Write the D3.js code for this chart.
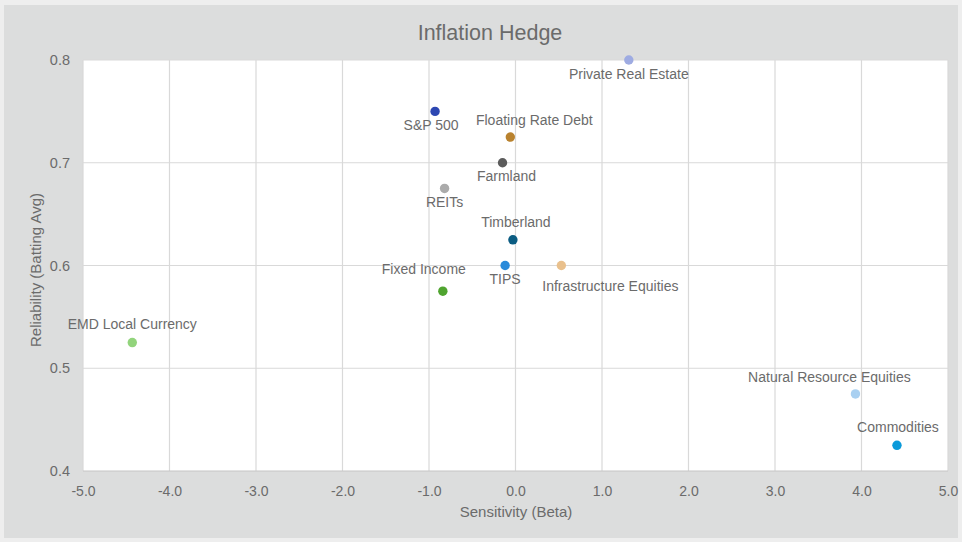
<!DOCTYPE html>
<html>
<head>
<meta charset="utf-8">
<script src="https://cdn.jsdelivr.net/npm/d3@7"></script>
<style>
  html, body { margin: 0; padding: 0; background: #eeeeee; }
  svg { display: block; font-family: "Liberation Sans", Arial, sans-serif; }
</style>
</head>
<body>
<svg width="962" height="542"></svg>
<script>
var width = 962,
    height = 542,
    margin = { top: 60, right: 14, bottom: 71, left: 83 }

// data
var assets = ["Private Real Estate", "S&P 500", "Floating Rate Debt", "Farmland", "REITs",
    "Timberland", "TIPS", "Infrastructure Equities", "Fixed Income", "EMD Local Currency",
    "Natural Resource Equities", "Commodities"]
var beta = [1.31, -0.93, -0.06, -0.15, -0.82, -0.03, -0.12, 0.53, -0.84, -4.43, 3.93, 4.41]
var battingAvg = [0.80, 0.75, 0.725, 0.70, 0.675, 0.625, 0.60, 0.60, 0.575, 0.525, 0.475, 0.425]
var xTicks = [-5, -4, -3, -2, -1, 0, 1, 2, 3, 4, 5]
var yTicks = [0.4, 0.5, 0.6, 0.7, 0.8]

// styles
var colors = ["#9eabe2", "#2d47b2", "#b9822e", "#5b5b5b", "#ababab", "#0b5c82",
    "#2a8bda", "#e9c08c", "#4fa42f", "#92d47c", "#a9d0f1", "#0a9ada"]
// label offset from its point [dx, dy]
var labelOffsets = [[0, 14], [-4, 14], [24, -17], [4, 13], [0, 14], [3, -18],
    [0, 13], [49, 20], [-19, -22], [0, -19], [-26, -17], [1, -18]]

var textColor = "#6b6b6b"
var fmt = function(d) { return d.toFixed(1) }

var svg = d3.select("svg")

svg.append("rect")
    .attr("x", 4).attr("y", 5)
    .attr("width", width - 8).attr("height", height - 9)
    .attr("fill", "#dcdddd")

var xScale = d3.scaleLinear().domain([-5, 5]).range([margin.left, width - margin.right])
var yScale = d3.scaleLinear().domain([0.4, 0.8]).range([height - margin.bottom, margin.top])

svg.append("rect")
    .attr("x", xScale(-5)).attr("y", yScale(0.8))
    .attr("width", xScale(5) - xScale(-5))
    .attr("height", yScale(0.4) - yScale(0.8))
    .attr("fill", "#ffffff")

// gridlines
svg.append("g")
    .selectAll("line")
    .data(xTicks)
    .enter()
    .append("line")
    .attr("x1", function(d) { return xScale(d) })
    .attr("x2", function(d) { return xScale(d) })
    .attr("y1", yScale(0.8))
    .attr("y2", yScale(0.4))
    .attr("stroke", "#d9d9d9")
    .attr("stroke-width", 1.2)

svg.append("g")
    .selectAll("line")
    .data(yTicks)
    .enter()
    .append("line")
    .attr("x1", xScale(-5))
    .attr("x2", xScale(5))
    .attr("y1", function(d) { return yScale(d) })
    .attr("y2", function(d) { return yScale(d) })
    .attr("stroke", function(d) { return d == 0.4 ? "#c6c6c6" : "#d9d9d9" })
    .attr("stroke-width", 1.2)

// axes
var xAxis = svg.append("g")
    .attr("transform", "translate(0," + yScale(0.4) + ")")
    .call(d3.axisBottom(xScale).tickValues(xTicks).tickSize(0).tickPadding(15)
        .tickFormat(fmt))
xAxis.select(".domain").remove()
xAxis.selectAll("text")
    .attr("fill", textColor)
    .style("font-size", "14px")
    .style("font-family", "Liberation Sans, Arial, sans-serif")

var yAxis = svg.append("g")
    .attr("transform", "translate(" + xScale(-5) + ",0)")
    .call(d3.axisLeft(yScale).tickValues(yTicks).tickSize(0).tickPadding(13)
        .tickFormat(fmt))
yAxis.select(".domain").remove()
yAxis.selectAll("text")
    .attr("fill", textColor)
    .style("font-size", "14.5px")
    .style("font-family", "Liberation Sans, Arial, sans-serif")

// titles
svg.append("text")
    .attr("x", 490).attr("y", 40)
    .attr("text-anchor", "middle")
    .attr("fill", textColor)
    .style("font-size", "21.5px")
    .text("Inflation Hedge")

svg.append("text")
    .attr("x", 516).attr("y", 517)
    .attr("text-anchor", "middle")
    .attr("fill", textColor)
    .style("font-size", "15px")
    .text("Sensitivity (Beta)")

svg.append("text")
    .attr("transform", "translate(41,270) rotate(-90)")
    .attr("text-anchor", "middle")
    .attr("fill", textColor)
    .style("font-size", "15px")
    .text("Reliability (Batting Avg)")

// points
svg.append("g")
    .selectAll("circle")
    .data(assets)
    .enter()
    .append("circle")
    .attr("cx", function(d, i) { return xScale(beta[i]) })
    .attr("cy", function(d, i) { return yScale(battingAvg[i]) })
    .attr("r", 4.7)
    .attr("fill", function(d, i) { return colors[i] })

// data labels
svg.append("g")
    .selectAll("text")
    .data(assets)
    .enter()
    .append("text")
    .attr("x", function(d, i) { return xScale(beta[i]) + labelOffsets[i][0] })
    .attr("y", function(d, i) { return yScale(battingAvg[i]) + labelOffsets[i][1] + 5 })
    .attr("text-anchor", "middle")
    .attr("fill", textColor)
    .style("font-size", "14px")
    .text(function(d) { return d })
</script>
</body>
</html>
